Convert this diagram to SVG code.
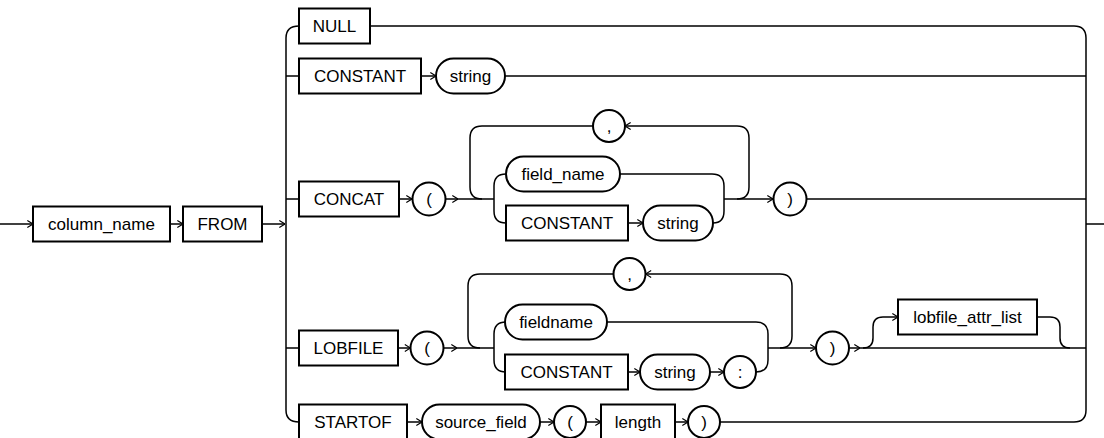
<svg xmlns="http://www.w3.org/2000/svg" width="1104" height="438" viewBox="0 0 1104 438">
<defs>
<marker id="arr" viewBox="0 0 8 10" markerUnits="userSpaceOnUse" markerWidth="7" markerHeight="9" refX="7.5" refY="5" orient="auto">
<path d="M1,1 L7.5,5 L1,9" fill="none" stroke="#000" stroke-width="1.3"/>
</marker>
<style>
.b{fill:#fff;stroke:#000;stroke-width:2}
.t{font-family:"Liberation Sans",Arial,sans-serif;font-size:17px;fill:#000;text-anchor:middle}
.c path{fill:none;stroke:#000;stroke-width:1.5}
.c path.a{marker-end:url(#arr)}
</style>
</defs>
<rect width="1104" height="438" fill="#fff"/>
<g class="c" id="connectors">
<path class="a" d="M0,224 L33,224"/>
<path class="a" d="M170,224 L183,224"/>
<path class="a" d="M262,224 L285,224"/>
<path d="M299,26 Q286,26 286,38 L286,410 Q286,422 299,422"/>
<path d="M286,76 L299,76 M286,199 L299,199 M286,348 L299,348"/>
<path d="M370,26 L1074,26 Q1086,26 1086,38 L1086,410 Q1086,422 1074,422"/>
<path d="M1086,224 L1104,224"/>
<path class="a" d="M421,76 L436,76"/>
<path d="M505,76 L1086,76"/>
<path class="a" d="M399,199 L412,199"/>
<path class="a" d="M445.5,199 L458,199"/>
<path d="M458,199 L494,199"/>
<path d="M494,199 L494,186 Q494,174 506,174 M494,199 L494,211 Q494,223 506,223"/>
<path d="M620,174 L712,174 Q724,174 724,186 L724,199"/>
<path class="a" d="M628,223 L643,223"/>
<path d="M713,223 Q724,223 724,211 L724,199"/>
<path class="a" d="M724,199 L773,199"/>
<path d="M806.5,199 L1086,199"/>
<path class="a" d="M737,199 Q749,199 749,187 L749,138 Q749,126 737,126 L625,126"/>
<path d="M593,126 L482,126 Q470,126 470,138 L470,187 Q470,199 482,199"/>
<path class="a" d="M398,348 L410.5,348"/>
<path class="a" d="M443.5,348 L457,348"/>
<path d="M457,348 L494,348"/>
<path d="M494,348 L494,334 Q494,322 506,322 M494,348 L494,360 Q494,372 506,372"/>
<path d="M607,322 L756,322 Q768,322 768,334 L768,348"/>
<path class="a" d="M628,372 L640,372"/>
<path class="a" d="M710,372 L724,372"/>
<path d="M756,372 Q768,372 768,360 L768,348"/>
<path class="a" d="M768,348 L816,348"/>
<path class="a" d="M780,348 Q792,348 792,336 L792,286 Q792,274 780,274 L645.5,274"/>
<path d="M613.5,274 L480,274 Q468,274 468,286 L468,336 Q468,348 480,348"/>
<path class="a" d="M849,348 L860,348"/>
<path d="M860,348 L1086,348"/>
<path class="a" d="M863,348 Q873,348 873,338 L873,327 Q873,317 883,317 L898,317"/>
<path d="M1037,317 L1050,317 Q1060,317 1060,327 L1060,338 Q1060,348 1070,348"/>
<path class="a" d="M407,422 L422,422"/>
<path class="a" d="M540,422 L554,422"/>
<path class="a" d="M586,422 L601,422"/>
<path class="a" d="M675,422 L688,422"/>
<path d="M720,422 L1074,422"/>
</g>
<g id="column_name"><rect class="b" x="33" y="206.5" width="137" height="35"/><text class="t" x="101.5" y="230">column_name</text></g>
<g id="FROM"><rect class="b" x="183" y="206.5" width="79" height="35"/><text class="t" x="222.5" y="230">FROM</text></g>
<g id="NULL"><rect class="b" x="299" y="8.5" width="71" height="35"/><text class="t" x="334.5" y="32">NULL</text></g>
<g id="CONSTANT1"><rect class="b" x="299" y="58.5" width="122" height="35"/><text class="t" x="360" y="82">CONSTANT</text></g>
<g id="string1"><rect class="b" x="436" y="58.5" width="69" height="35" rx="17.5"/><text class="t" x="470.5" y="82">string</text></g>
<g id="CONCAT"><rect class="b" x="299" y="181.5" width="100" height="35"/><text class="t" x="349" y="205">CONCAT</text></g>
<g id="lparen1"><circle class="b" cx="429" cy="199" r="16.5"/><text class="t" x="429" y="205">(</text></g>
<g id="comma1"><circle class="b" cx="609" cy="126" r="16"/><text class="t" x="609" y="132">,</text></g>
<g id="field_name"><rect class="b" x="506" y="156.5" width="114" height="35" rx="17.5"/><text class="t" x="563" y="180">field_name</text></g>
<g id="CONSTANT2"><rect class="b" x="506" y="205.5" width="122" height="35"/><text class="t" x="567" y="229">CONSTANT</text></g>
<g id="string2"><rect class="b" x="643" y="205.5" width="70" height="35" rx="17.5"/><text class="t" x="678" y="229">string</text></g>
<g id="rparen1"><circle class="b" cx="790" cy="199" r="16.5"/><text class="t" x="790" y="205">)</text></g>
<g id="LOBFILE"><rect class="b" x="299" y="330.5" width="99" height="35"/><text class="t" x="348.5" y="354">LOBFILE</text></g>
<g id="lparen2"><circle class="b" cx="427" cy="348" r="16.5"/><text class="t" x="427" y="354">(</text></g>
<g id="comma2"><circle class="b" cx="629.5" cy="274" r="16"/><text class="t" x="629.5" y="280">,</text></g>
<g id="fieldname"><rect class="b" x="505" y="304.5" width="102" height="35" rx="17.5"/><text class="t" x="556" y="328">fieldname</text></g>
<g id="CONSTANT3"><rect class="b" x="505" y="354.5" width="123" height="35"/><text class="t" x="566.5" y="378">CONSTANT</text></g>
<g id="string3"><rect class="b" x="640" y="354.5" width="70" height="35" rx="17.5"/><text class="t" x="675" y="378">string</text></g>
<g id="colon"><circle class="b" cx="740" cy="372" r="16"/><text class="t" x="740" y="378">:</text></g>
<g id="rparen2"><circle class="b" cx="832.5" cy="348" r="16.5"/><text class="t" x="832.5" y="354">)</text></g>
<g id="lobfile_attr_list"><rect class="b" x="898" y="299.5" width="139" height="35"/><text class="t" x="967.5" y="323">lobfile_attr_list</text></g>
<g id="STARTOF"><rect class="b" x="299" y="404.5" width="108" height="35"/><text class="t" x="353" y="428">STARTOF</text></g>
<g id="source_field"><rect class="b" x="422" y="404.5" width="118" height="35" rx="17.5"/><text class="t" x="481" y="428">source_field</text></g>
<g id="lparen3"><circle class="b" cx="570" cy="422" r="16"/><text class="t" x="570" y="428">(</text></g>
<g id="length"><rect class="b" x="601" y="404.5" width="74" height="35"/><text class="t" x="638" y="428">length</text></g>
<g id="rparen3"><circle class="b" cx="704" cy="422" r="16"/><text class="t" x="704" y="428">)</text></g>
</svg>
